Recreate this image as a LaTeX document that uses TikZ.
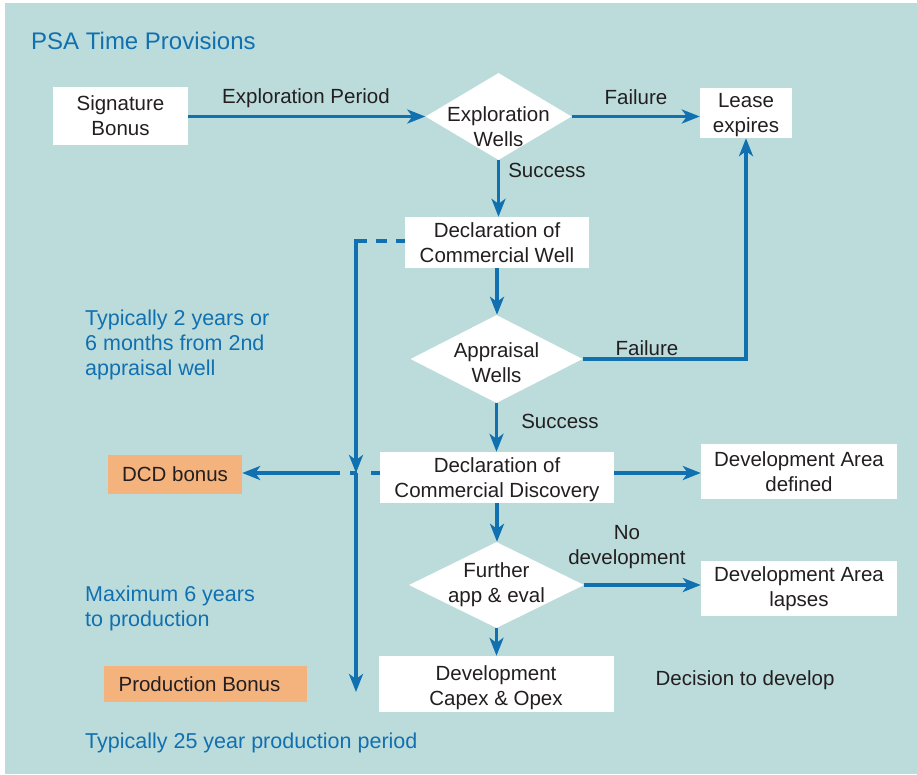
\documentclass[tikz,border=0pt]{standalone}
\usepackage{fontspec}
\setmainfont{Liberation Sans}
\usetikzlibrary{shapes.geometric,arrows.meta}
\definecolor{bg}{HTML}{BCDCDC}
\definecolor{ln}{HTML}{1170B0}
\definecolor{tx}{HTML}{231F20}
\definecolor{orng}{HTML}{F4B27C}
\begin{document}
\begin{tikzpicture}[x=1pt,y=-1pt,
  every node/.style={font=\fontsize{20.5}{25}\selectfont, text=tx},
  box/.style={fill=white, inner sep=0pt, align=center},
  dia/.style={diamond, fill=white, inner sep=0pt},
  obox/.style={fill=orng, inner sep=0pt},
  conn/.style={draw=ln, line width=3.3pt, -{Stealth[length=18pt,width=14pt,inset=5pt]}},
  plain/.style={draw=ln, line width=3.3pt},
  note/.style={text=ln, align=left, inner sep=0pt, font=\fontsize{21.5}{25}\selectfont},
  lab/.style={inner sep=0pt, align=center}]
\useasboundingbox (0,0) rectangle (917,774);
\fill[bg] (5,3) rectangle (917,774);

% title and notes
\node[note, anchor=base west, font=\fontsize{24}{28}\selectfont] (title) at (31,49) {PSA Time Provisions};
\node[note, anchor=west] (n1) at (85,345) {Typically 2 years or\\6 months from 2nd\\appraisal well};
\node[note, anchor=west] (n2) at (85,608) {Maximum 6 years\\to production};
\node[note, anchor=west] (n3) at (85,743) {Typically 25 year production period};

% boxes
\node[box, minimum width=135pt, minimum height=58pt] (sig) at (120.5,116) {Signature\\Bonus};
\node[box, minimum width=92pt, minimum height=50pt, text=white, label={[lab, yshift=-2.5pt]center:Lease\\expires}] (lease) at (746,113) {};
\node[box, minimum width=184pt, minimum height=51pt] (dcw) at (497,242.5) {Declaration of\\Commercial Well};
\node[box, minimum width=234pt, minimum height=51pt, label={[lab, yshift=-2pt]center:Declaration of\\Commercial Discovery}] (dcd) at (497,477.5) {};
\node[box, minimum width=196pt, minimum height=55pt] (dad) at (799,471.5) {Development Area\\defined};
\node[box, minimum width=196pt, minimum height=55pt] (dal) at (799,588.5) {Development Area\\lapses};
\node[box, minimum width=235pt, minimum height=56pt, label={[lab, yshift=-3.5pt]center:Development\\Capex \& Opex}] (dev) at (496,684) {};
\node[obox, minimum width=134pt, minimum height=39pt] (dcdb) at (175,474.5) {DCD bonus};
\node[obox, minimum width=203pt, minimum height=36pt, label={[lab, xshift=-6pt]center:Production Bonus}] (pb) at (205.5,684) {};

% diamonds
\node[dia, minimum width=146pt, minimum height=87pt, label={[lab, yshift=-10pt]center:Exploration\\Wells}] (ew) at (498.5,116.5) {};
\node[dia, minimum width=172pt, minimum height=88pt, label={[lab, yshift=-4pt]center:Appraisal\\Wells}] (aw) at (496.5,359) {};
\node[dia, minimum width=175pt, minimum height=86pt, label={[lab]center:Further\\app \& eval}] (fa) at (496.5,585) {};

% labels
\node[lab] (l1) at (306,98) {Exploration Period};
\node[lab] (l2) at (636,97) {Failure};
\node[lab] (l3) at (547,170) {Success};
\node[lab] (l4) at (647,348) {Failure};
\node[lab] (l5) at (560,421) {Success};
\node[lab] (l6) at (627,547) {No\\development};
\node[lab] (l7) at (745,680) {Decision to develop};

% connectors
\draw[conn] (sig.east |- ew.west) -- (ew.west);
\draw[conn] (ew.east) -- (ew.east -| lease.west);
\draw[conn] (ew.south) -- (ew.south |- dcw.north);
\draw[conn] (dcw.south) -- (dcw.south |- aw.north);
\draw[conn] (aw.east) -| (lease.south);
\draw[conn] (aw.south) -- (aw.south |- dcd.north);
\draw[conn] (dcd.east |- 0,473) -- (dad.west |- 0,473);
\draw[conn] (dcd.south) -- (dcd.south |- fa.north);
\draw[conn] (fa.east) -- (fa.east -| dal.west);
\draw[conn] (fa.south) -- (fa.south |- dev.north);

% left timeline
\coordinate (tl) at (356,241);
\coordinate (mid) at (356,473);
\coordinate (bot) at (356,692);
\coordinate (h1) at (350,473);
\coordinate (h2) at (340,473);
\draw[plain, dash pattern=on 11pt off 9pt] (tl) -- (tl -| dcw.west);
\draw[conn, line cap=rect] (tl) -- (mid);
\draw[conn] (mid) -- (bot);
\draw[plain, dash pattern=on 9pt off 14pt on 8pt off 100pt] (dcd.west |- h1) -- (h1);
\draw[conn] (h2) -- (dcdb.east |- h2);
\end{tikzpicture}
\end{document}
